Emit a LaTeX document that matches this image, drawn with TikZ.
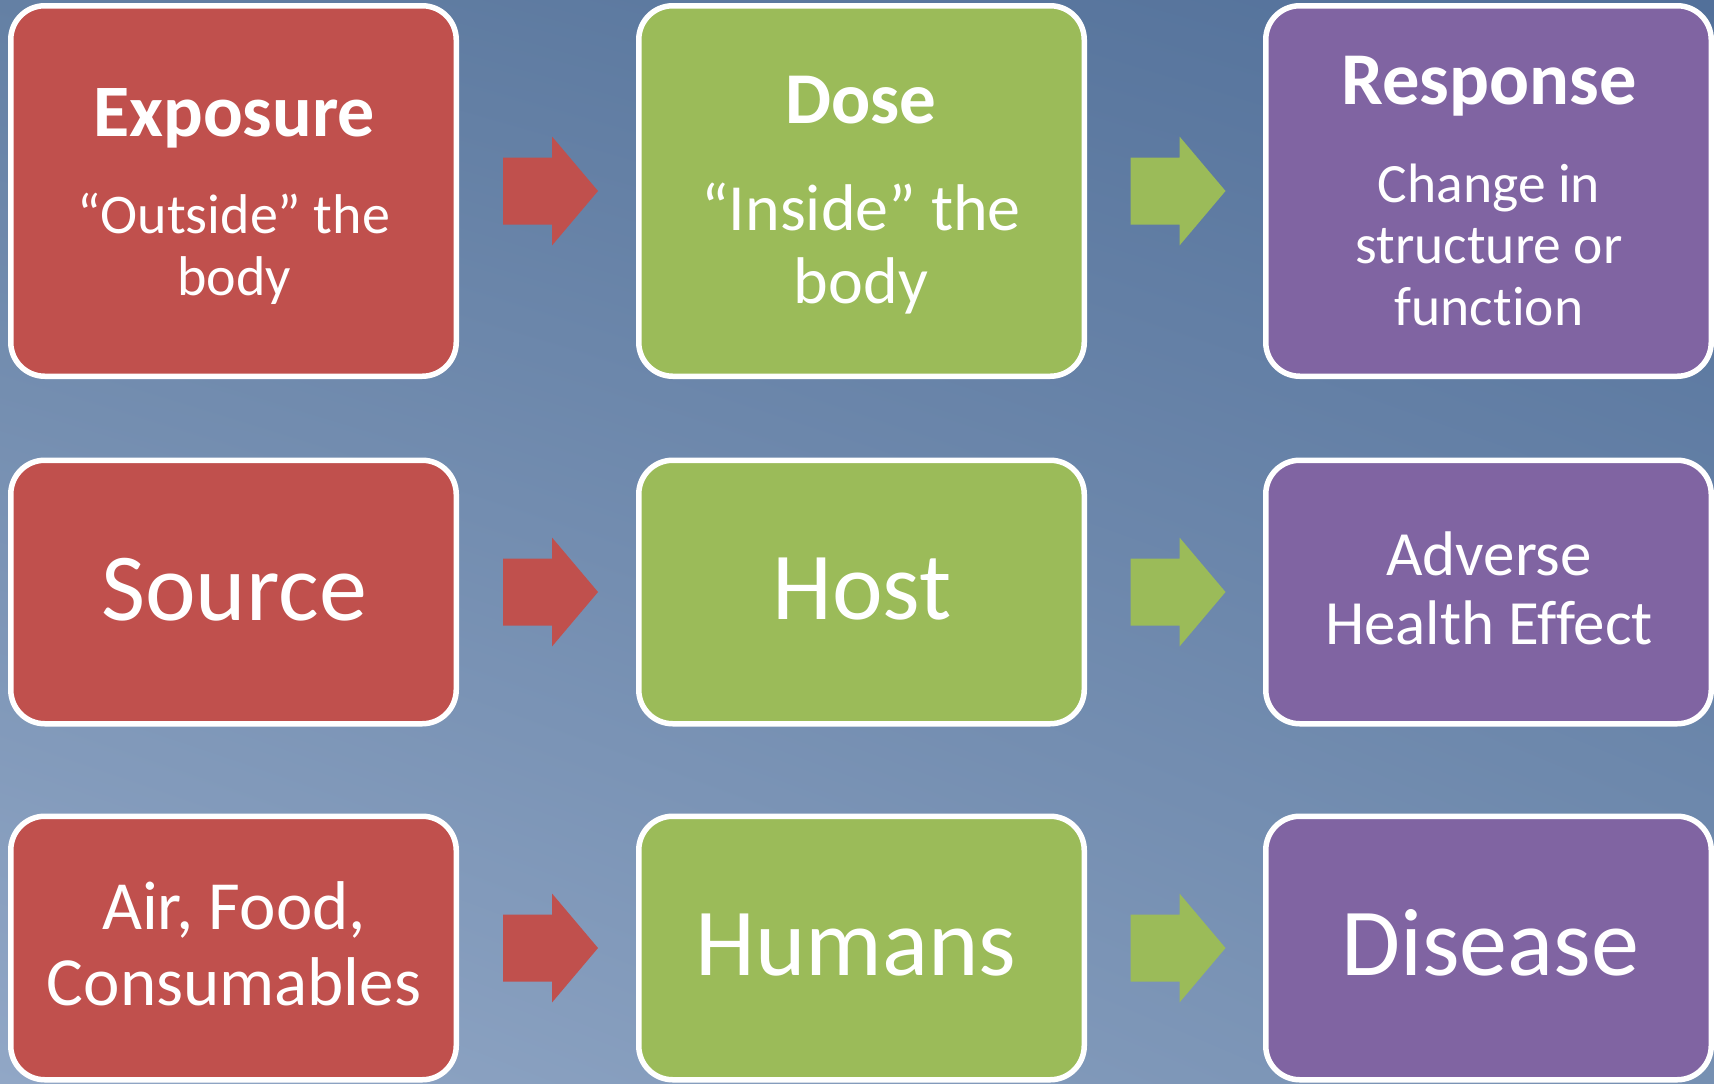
\documentclass[tikz,border=0pt]{standalone}
\usepackage{fontspec}
\setmainfont[Ligatures={NoCommon}]{Carlito}
\usetikzlibrary{calc,shadings}
\definecolor{bxred}{HTML}{C0504D}
\definecolor{bxgreen}{HTML}{9BBB59}
\definecolor{bxpurple}{HTML}{8064A2}
\definecolor{bgul}{HTML}{6480A4}
\definecolor{bgur}{HTML}{52709A}
\definecolor{bgll}{HTML}{91A7C6}
\definecolor{bglr}{HTML}{7690B2}
\newcommand\blkarrow[3]{%
  \path ($(#1.east)!0.5!(#2.west)$) coordinate (m#1);
  \fill[#3] ($(m#1)+(-44.5,-33.5)$) -- ($(m#1)+(4.5,-33.5)$) -- ($(m#1)+(4.5,-54.5)$)
    -- ($(m#1)+(50.5,0)$) -- ($(m#1)+(4.5,54.5)$) -- ($(m#1)+(4.5,33.5)$)
    -- ($(m#1)+(-44.5,33.5)$) -- cycle;}
\newcommand\fs[1]{\fontsize{#1pt}{#1pt}\selectfont}
\begin{document}
\begin{tikzpicture}[x=1pt,y=-1pt,
  box/.style={draw=white, line width=5.5pt, rounded corners=34pt,
    minimum width=445.5pt, inner sep=0pt},
  tallrow/.style={minimum height=370.5pt},
  shortrow/.style={minimum height=263.5pt},
  txt/.style={anchor=base, inner sep=0pt, text=white}]
\useasboundingbox (0,0) rectangle (1714,1084);
\shade[upper left=bgul, upper right=bgur, lower left=bgll, lower right=bglr]
  (0,0) rectangle (1714,1084);
% boxes
\node[box, tallrow, fill=bxred] (ex) at (233.5,191) {};
\node[box, tallrow, fill=bxgreen] (do) at (861.5,191) {};
\node[box, tallrow, fill=bxpurple] (re) at (1488.5,191) {};
\node[box, shortrow, fill=bxred] (so) at (233.5,592) {};
\node[box, shortrow, fill=bxgreen] (ho) at (861.5,592) {};
\node[box, shortrow, fill=bxpurple] (ad) at (1488.5,592) {};
\node[box, shortrow, fill=bxred] (ai) at (233.5,948) {};
\node[box, shortrow, fill=bxgreen] (hu) at (861.5,948) {};
\node[box, shortrow, fill=bxpurple] (di) at (1488.5,948) {};
% arrows
\blkarrow{ex}{do}{bxred}
\blkarrow{do}{re}{bxgreen}
\blkarrow{so}{ho}{bxred}
\blkarrow{ho}{ad}{bxgreen}
\blkarrow{ai}{hu}{bxred}
\blkarrow{hu}{di}{bxgreen}
% texts
\node[txt, font=\fs{74}\bfseries] (ex1) at (234,136) {Exposure};
\node[txt, font=\fs{56}] (ex2) at (234,233) {“Outside” the};
\node[txt, font=\fs{56}] (ex3) at (234,295) {body};
\node[txt, font=\fs{73}\bfseries] (do1) at (861,123) {Dose};
\node[txt, font=\fs{66}] (do2) at (861,230) {“Inside” the};
\node[txt, font=\fs{66}] (do3) at (861,303) {body};
\node[txt, font=\fs{74.5}\bfseries] (re1) at (1489,104) {Response};
\node[txt, font=\fs{55.5}] (re2) at (1489,202) {Change in};
\node[txt, font=\fs{55.5}] (re3) at (1489,263) {structure or};
\node[txt, font=\fs{55.5}] (re4) at (1489,325) {function};
\node[txt, font=\fs{96}] (so1) at (234,620) {Source};
\node[txt, font=\fs{96}] (ho1) at (862,619) {Host};
\node[txt, font=\fs{63}] (ad1) at (1489,575) {Adverse};
\node[txt, font=\fs{63}] (ad2) at (1489,644) {Health Effect};
\node[txt, font=\fs{69}] (ai1) at (234,929) {Air, Food,};
\node[txt, font=\fs{69}] (ai2) at (234,1005) {Consumables};
\node[txt, font=\fs{96}] (hu1) at (856,975) {Humans};
\node[txt, font=\fs{96}] (di1) at (1490,975) {Disease};
\end{tikzpicture}
\end{document}
